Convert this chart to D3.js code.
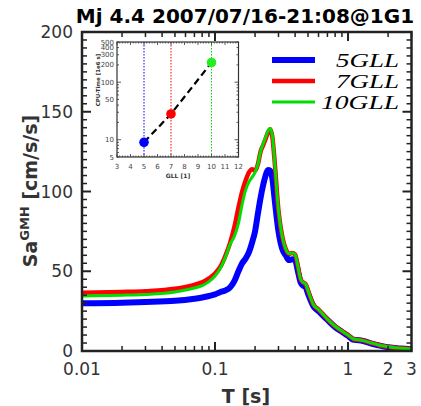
<!DOCTYPE html>
<html><head><meta charset="utf-8">
<script src="https://cdn.jsdelivr.net/npm/d3@7"></script>
<style>body{margin:0;background:#fff}svg{display:block}</style>
</head><body>
<script>
const title = "Mj 4.4 2007/07/16-21:08@1G1";
const periods = [0.01,0.02,0.03,0.05,0.07,0.08,0.09,0.1,0.11,0.12,0.13,0.14,0.15,0.16,0.17,0.18,0.19,0.2,0.21,0.22,0.23,0.24,0.25,0.26,0.27,0.28,0.3,0.32,0.34,0.36,0.38,0.4,0.42,0.44,0.46,0.48,0.5,0.55,0.6,0.7,0.8,0.9,1.0,1.1,1.2,1.3,1.5,1.7,2.0,2.5,3.0];
const sa5 = [30,30.3,30.7,31.5,32.8,33.5,34.5,35.5,37,38,40,44,50,55,58,62,68,75,86,96,104,110,113.5,113,108,96,75,64,60,57,57.5,57,50,43,41,40,36,28,25,19.5,15,12,9.5,7,6.8,6.3,4.6,3.5,2.3,1.5,1.1];
const sa7 = [36.5,37,37.5,39,41.5,43,45.5,48.5,53,60,68,78,90,100,107,112,114,113,117,125,129,133,137,139,134,120,88,72,64,61,61.5,60.5,53,45,43,42,38,29,26,20,15.5,12.5,10,7.5,7,6.5,5,3.8,2.6,1.7,1.2];
const sa10 = [34.5,35,35.5,37,39.5,41,43.5,47,52,59,67,72,80,92,101,106,109,112,117,125,130,134,138,139.5,135,120,88,72,64,61,61.5,60.5,53,45,43,42,38,29,26,20,15.5,12.5,10,7.5,7,6.5,5,3.8,2.6,1.7,1.2];
const seriesNames = ["5GLL","7GLL","10GLL"];
const seriesColors = ["#0000ff","#ff0000","#00dd00"];
const seriesWidths = [6,4.5,3];
const xTickVals = [0.01,0.1,1,2,3];
const xTickLabels = ["0.01","0.1","1","2","3"];
const yTickVals = [0,50,100,150,200];
// inset
const gll = [5,7,10];
const cpuTime = [9,28,220];
const insetXTicks = [3,4,5,6,7,8,9,10,11,12];
const insetYTicks = [5,10,50,100,200,300,400,500];

const W=421,H=406;
const svg = d3.select("body").append("svg").attr("width",W).attr("height",H);
const m = {l:82,r:411.5,t:32,b:351};
const x = d3.scaleLog().domain([0.01,3]).range([m.l,m.r]);
const y = d3.scaleLinear().domain([0,200]).range([m.b,m.t]);
const axc = "#222";
const font = "DejaVu Sans";

// curves
const allSeries = [sa5,sa7,sa10];
const line = d3.line().x((d,i)=>x(periods[i])).y(d=>y(d)).curve(d3.curveMonotoneX);
svg.append("clipPath").attr("id","c").append("rect").attr("x",m.l).attr("y",m.t).attr("width",m.r-m.l).attr("height",m.b-m.t);
const cg = svg.append("g").attr("clip-path","url(#c)");
allSeries.forEach((s,k)=>{
  cg.append("path").datum(s).attr("d",line).attr("fill","none")
    .attr("stroke",seriesColors[k]).attr("stroke-width",seriesWidths[k]).attr("stroke-linejoin","round");
});

// ticks
const g = svg.append("g");
const minorX = [];
[0.01,0.1,1].forEach(d=>{for(let i=1;i<10;i++){const v=d*i; if(v<=3.0001) minorX.push(v);}});
minorX.forEach(v=>{
  const major = [0.01,0.1,1].includes(v);
  const len = major?9:5;
  g.append("line").attr("x1",x(v)).attr("x2",x(v)).attr("y1",m.b).attr("y2",m.b-len).attr("stroke",axc).attr("stroke-width",major?2:1.5);
  g.append("line").attr("x1",x(v)).attr("x2",x(v)).attr("y1",m.t).attr("y2",m.t+len).attr("stroke",axc).attr("stroke-width",major?2:1.5);
});
for(let v=0; v<=200; v+=5){
  const major = v%50===0;
  const len = major?9:5;
  g.append("line").attr("x1",m.l).attr("x2",m.l+len).attr("y1",y(v)).attr("y2",y(v)).attr("stroke",axc).attr("stroke-width",major?2:1.5);
  g.append("line").attr("x1",m.r).attr("x2",m.r-len).attr("y1",y(v)).attr("y2",y(v)).attr("stroke",axc).attr("stroke-width",major?2:1.5);
}
g.append("rect").attr("x",m.l).attr("y",m.t).attr("width",m.r-m.l).attr("height",m.b-m.t).attr("fill","none").attr("stroke",axc).attr("stroke-width",2.5);

xTickVals.forEach((v,i)=>{
  g.append("text").attr("x",x(v)).attr("y",375).attr("text-anchor","middle").attr("font-family",font).attr("font-size",17).attr("fill","#333").text(xTickLabels[i]);
});
yTickVals.forEach(v=>{
  g.append("text").attr("x",73).attr("y",y(v)+6).attr("text-anchor","end").attr("font-family",font).attr("font-size",17).attr("fill","#333").text(v);
});
svg.append("text").attr("x",246).attr("y",403).attr("text-anchor","middle").attr("font-family",font).attr("font-weight","bold").attr("font-size",19).attr("fill","#333").text("T [s]");
const yl = svg.append("text").attr("transform","translate(37,191) rotate(-90)").attr("text-anchor","middle").attr("font-family",font).attr("font-weight","bold").attr("font-size",19).attr("fill","#333");
yl.append("tspan").text("Sa");
yl.append("tspan").attr("font-size",13).attr("dy",-8).text("GMH");
yl.append("tspan").attr("dy",8).text(" [cm/s/s]");
svg.append("text").attr("x",245).attr("y",23).attr("text-anchor","middle").attr("font-family",font).attr("font-weight","bold").attr("font-size",20).attr("fill","#000").text(title);

// legend
seriesNames.forEach((n,k)=>{
  const ly = 60 + k*21;
  svg.append("line").attr("x1",272).attr("x2",315).attr("y1",ly).attr("y2",ly).attr("stroke",seriesColors[k]).attr("stroke-width",seriesWidths[k]);
  svg.append("text").attr("x",399).attr("y",ly+6.5).attr("text-anchor","end").attr("font-family","Liberation Serif").attr("font-style","italic").attr("font-size",19).attr("fill","#000")
    .attr("textLength",k===2?78:63).attr("lengthAdjust","spacingAndGlyphs").text(n);
});

// inset
const im = {l:117,r:238.5,t:42,b:157};
const ix = d3.scaleLinear().domain([3,12]).range([im.l,im.r]);
const iy = d3.scaleLog().domain([5,500]).range([im.b,im.t]);
const ig = svg.append("g");
ig.append("rect").attr("x",im.l).attr("y",im.t).attr("width",im.r-im.l).attr("height",im.b-im.t).attr("fill","#fff");
gll.forEach((v,k)=>{
  ig.append("line").attr("x1",ix(v)).attr("x2",ix(v)).attr("y1",im.t).attr("y2",im.b).attr("stroke",seriesColors[k]).attr("stroke-width",1).attr("stroke-dasharray","1.5,1.5");
});
ig.append("path").datum(cpuTime).attr("d",d3.line().x((d,i)=>ix(gll[i])).y(d=>iy(d))).attr("fill","none").attr("stroke","#000").attr("stroke-width",2.2).attr("stroke-dasharray","7,4");
cpuTime.forEach((v,k)=>{
  ig.append("circle").attr("cx",ix(gll[k])).attr("cy",iy(v)).attr("r",4.8).attr("fill",k===2?"#22ee22":seriesColors[k]);
});
const ic = "#333";
for(let v=3; v<=12.0001; v+=0.2){
  const major = Math.abs(v-Math.round(v))<1e-6;
  const len = major?3:1.5;
  ig.append("line").attr("x1",ix(v)).attr("x2",ix(v)).attr("y1",im.b).attr("y2",im.b-len).attr("stroke",ic).attr("stroke-width",0.8);
  ig.append("line").attr("x1",ix(v)).attr("x2",ix(v)).attr("y1",im.t).attr("y2",im.t+len).attr("stroke",ic).attr("stroke-width",0.8);
}
[5,6,7,8,9,10,20,30,40,50,60,70,80,90,100,200,300,400,500].forEach(v=>{
  const major = [10,100].includes(v);
  const len = major?4:2;
  ig.append("line").attr("x1",im.l).attr("x2",im.l+len).attr("y1",iy(v)).attr("y2",iy(v)).attr("stroke",ic).attr("stroke-width",0.8);
  ig.append("line").attr("x1",im.r).attr("x2",im.r-len).attr("y1",iy(v)).attr("y2",iy(v)).attr("stroke",ic).attr("stroke-width",0.8);
});
ig.append("rect").attr("x",im.l).attr("y",im.t).attr("width",im.r-im.l).attr("height",im.b-im.t).attr("fill","none").attr("stroke",ic).attr("stroke-width",1.2);
insetXTicks.forEach(v=>{
  ig.append("text").attr("x",ix(v)).attr("y",169).attr("text-anchor","middle").attr("font-family",font).attr("font-size",7).attr("fill","#444").text(v);
});
insetYTicks.forEach(v=>{
  ig.append("text").attr("x",114).attr("y",iy(v)+2.5).attr("text-anchor","end").attr("font-family",font).attr("font-size",7).attr("fill","#444").text(v);
});
ig.append("text").attr("x",178).attr("y",178).attr("text-anchor","middle").attr("font-family",font).attr("font-weight","bold").attr("font-size",6).attr("fill","#333").text("GLL [1]");
ig.append("text").attr("transform","translate(100,80) rotate(-90)").attr("text-anchor","middle").attr("font-family",font).attr("font-weight","bold").attr("font-size",5.5).attr("fill","#333").text("CPU-Time [1e6 s]");
</script>
</body></html>
